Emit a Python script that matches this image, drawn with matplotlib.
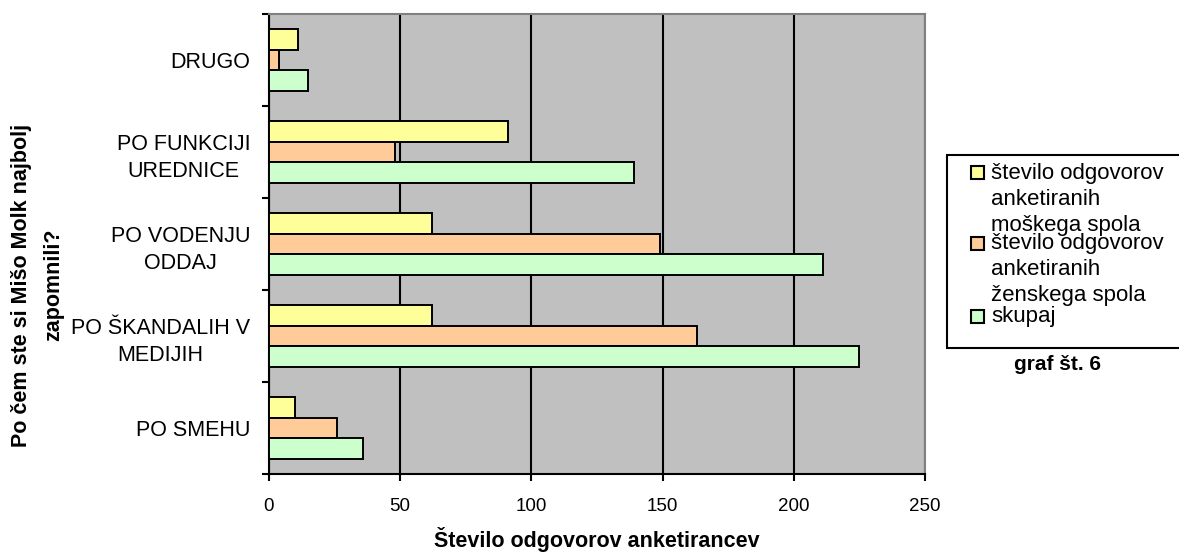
#!/usr/bin/env python3
import os

os.environ.setdefault("MPLCONFIGDIR", "/tmp/matplotlib-cache")

import matplotlib

matplotlib.use("Agg")
import matplotlib.pyplot as plt
import numpy as np
from matplotlib.patches import Rectangle

# bottom to top, as on the chart
categories = [
    "PO SMEHU",
    "PO ŠKANDALIH V\nMEDIJIH",
    "PO VODENJU\nODDAJ",
    "PO FUNKCIJI\nUREDNICE",
    "DRUGO",
]
moski = [10, 62, 62, 91, 11]
zenske = [26, 163, 149, 48, 4]
skupaj = [36, 225, 211, 139, 15]

series_labels = [
    "število odgovorov\nanketiranih\nmoškega spola",
    "število odgovorov\nanketiranih\nženskega spola",
    "skupaj",
]
series_colors = ["#FFFF99", "#FFCC99", "#CCFFCC"]

x_ticks = [0, 50, 100, 150, 200, 250]
x_title = "Število odgovorov anketirancev"
y_title = "Po čem ste si Mišo Molk najbolj\nzapomnili?"
note = "graf št. 6"

W, H = 1179, 552


def fx(px):
    return px / W


def fy(py):
    return 1 - py / H


def main():
    plt.rcParams["font.family"] = ["Liberation Sans", "DejaVu Sans"]

    fig = plt.figure(figsize=(W / 100, H / 100), dpi=100)
    ax = fig.add_axes([fx(269), fy(474), fx(925) - fx(269), fy(14) - fy(474)])
    ax.set_facecolor("#C0C0C0")

    y = np.arange(len(categories))
    h = 0.225
    offs = [0.223, 0.0, -0.223]
    for vals, off, col in zip([moski, zenske, skupaj], offs, series_colors):
        ax.barh(y + off, vals, height=h, color=col, edgecolor="black",
                linewidth=1.4, zorder=3)

    ax.set_xlim(0, 250)
    ax.set_ylim(-0.5, len(categories) - 0.5)

    ax.set_xticks(x_ticks)
    ax.set_xticklabels([str(t) for t in x_ticks], fontsize=13.5)
    ax.tick_params(axis="x", direction="out", length=5, width=1.5, pad=12.5)
    ax.xaxis.grid(True, color="black", linewidth=1.5, zorder=1)
    ax.set_axisbelow(True)

    ax.set_yticks(np.arange(-0.5, len(categories), 1.0))
    ax.set_yticklabels([])
    ax.tick_params(axis="y", which="major", direction="out", length=5, width=1.5)
    ax.set_yticks(y, minor=True)
    ax.set_yticklabels(categories, minor=True, fontsize=15.5, linespacing=1.38)
    ax.tick_params(axis="y", which="minor", length=0, pad=13.5)
    for lab in ax.get_yticklabels(minor=True):
        lab.set_multialignment("center")

    for side in ["left", "bottom"]:
        ax.spines[side].set_color("black")
        ax.spines[side].set_linewidth(1.5)
    for side in ["top", "right"]:
        ax.spines[side].set_color("#808080")
        ax.spines[side].set_linewidth(1.5)

    fig.text(fx(597), fy(539), x_title, ha="center", va="center",
             fontsize=15.5, fontweight="bold")
    fig.text(fx(38), fy(285), y_title, ha="center", va="center",
             rotation=90, fontsize=15.5, fontweight="bold",
             multialignment="center", linespacing=1.7)

    # legend box, runs off the right edge like the original
    fig.add_artist(Rectangle((fx(947), fy(348)), 1.05 - fx(947), fy(155) - fy(348),
                             transform=fig.transFigure, facecolor="white",
                             edgecolor="black", linewidth=1.5, clip_on=False))
    tops = [163, 233, 306]
    squares = [172, 243, 316]
    for lab, col, top, sq in zip(series_labels, series_colors, tops, squares):
        fig.add_artist(Rectangle((fx(971), fy(sq + 6.5)), fx(13), 13 / H,
                                 transform=fig.transFigure, facecolor=col,
                                 edgecolor="black", linewidth=1.5))
        fig.text(fx(991), fy(top), lab, ha="left", va="top",
                 fontsize=16, linespacing=1.3)

    fig.text(fx(1057), fy(365), note, ha="center", va="center",
             fontsize=15, fontweight="bold")

    fig.savefig("out.png", dpi=100)
    plt.close(fig)


if __name__ == "__main__":
    main()
